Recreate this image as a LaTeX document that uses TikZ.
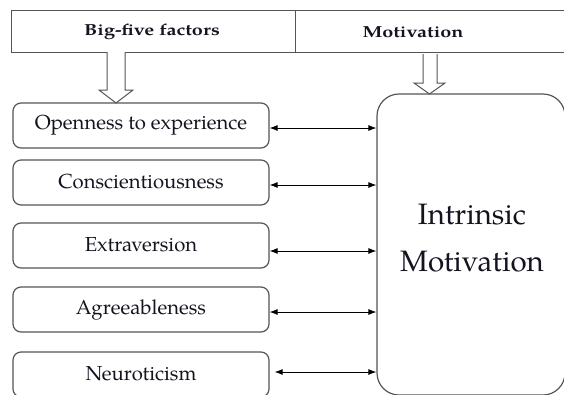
\documentclass[tikz,border=0pt]{standalone}
\usepackage{fontspec}
\setmainfont{TeX Gyre Pagella}
\usetikzlibrary{arrows.meta}
\definecolor{edge}{HTML}{555555}
\definecolor{ink}{HTML}{141420}
\newcommand{\widetitle}[1]{\scalebox{1.24}[1]{#1}}
\tikzset{
  cell/.style={draw=edge, line width=1pt, minimum height=42pt, inner sep=0pt},
  title/.style={font=\fontsize{16}{18}\selectfont\bfseries, text=ink},
  factor/.style={draw=edge, line width=1.2pt, rounded corners=8pt,
    minimum width=256pt, minimum height=45pt, inner sep=0pt,
    font=\fontsize{20.3}{22}\selectfont, text=ink},
  goal/.style={draw=edge, line width=1.2pt, rounded corners=22pt,
    minimum width=188pt, minimum height=301pt, inner sep=0pt},
  hollow/.style={draw=edge, line width=1pt, fill=white},
  link/.style={draw=black, line width=0.9pt, {Latex[length=8pt,width=6pt]}-{Latex[length=8pt,width=6pt]}}
}
\begin{document}
\begin{tikzpicture}[x=1pt,y=-1pt]
\useasboundingbox (0,0) rectangle (564,394);
\clip (0,0) rectangle (564,394);

% header row
\node[cell, minimum width=284pt] (hl) at (153,31) {};
\draw[edge, line width=1pt] (295,10) rectangle (570,52);
\node[title] (tl) at (152,32) {\widetitle{Big-five factors}};
\node[title] (tr) at (413,32) {\widetitle{Motivation}};

% factor boxes
\node[factor] (f1) at (141,125.5) {\raisebox{2pt}{Openness to experience}};
\node[factor] (f2) at (141,182.5) {\raisebox{2pt}{Conscientiousness}};
\node[factor] (f3) at (141,245.5) {\raisebox{2pt}{Extraversion}};
\node[factor] (f4) at (141,309.5) {\raisebox{2pt}{Agreeableness}};
\node[factor] (f5) at (141,374.5) {\raisebox{3pt}{Neuroticism}};

% intrinsic motivation box
\node[goal] (im) at (471,244.5) {};
\node[font=\fontsize{29.5}{47}\selectfont, text=ink, align=center] (imt) at (472,238.5) {Intrinsic\\Motivation};

% hollow block arrows
\path[hollow] (107,52) -- (107,90) -- (99,90) -- (116,103) -- (133,90) -- (125,90) -- (125,52);
\path[hollow] (423,54) -- (423,83) -- (414,83) -- (429.5,94) -- (445,83) -- (437,83) -- (437,54);

% links between factors and motivation
\draw[link] (f1.east |- 0,128) -- (im.west |- 0,128);
\draw[link] (f2.east |- 0,185) -- (im.west |- 0,185);
\draw[link] (f3.east |- 0,251) -- (im.west |- 0,251);
\draw[link] (f4.east |- 0,312) -- (im.west |- 0,312);
\draw[link] ([xshift=5pt]f5.east |- 0,372) -- (im.west |- 0,372);
\end{tikzpicture}
\end{document}
